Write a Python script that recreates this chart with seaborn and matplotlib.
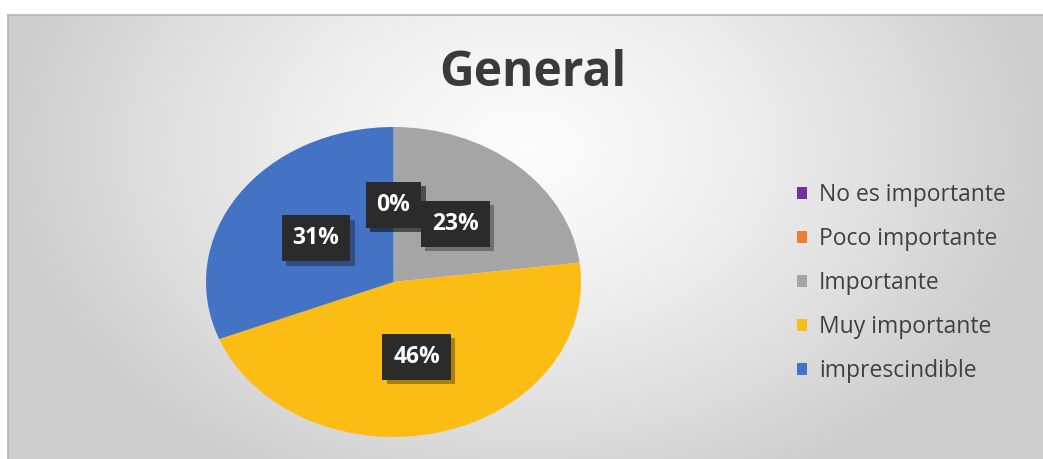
import numpy as np
import matplotlib
matplotlib.use("Agg")
import matplotlib.pyplot as plt
import matplotlib.patheffects as pe
from matplotlib.patches import Patch
import seaborn as sns

# Data
categories = ["No es importante", "Poco importante", "Importante",
              "Muy importante", "imprescindible"]
values = [0, 0, 23, 46, 31]
colors = ["#7030A0", "#ED7D31", "#A5A5A5", "#FBBC14", "#4472C4"]
title = "General"

sns.set_theme(style="white")
plt.rcParams["font.family"] = ["Open Sans", "DejaVu Sans"]

W, H = 1043, 459
fig = plt.figure(figsize=(W / 100, H / 100), dpi=100)
fig.patch.set_facecolor("white")

# Panel background with a soft radial gradient
bg = fig.add_axes([8 / W, 0, (W - 8) / W, (H - 15) / H])
ny, nx = 300, 600
yy, xx = np.mgrid[0:1:ny * 1j, 0:1:nx * 1j]
d = np.sqrt(((xx - 0.5) / 0.5) ** 2 + ((yy - 0.3) / 0.85) ** 2)
val = 0.985 - 0.18 * np.clip(d, 0, 1.0) ** 1.4
img = np.dstack([val, val, val])
bg.imshow(img, aspect="auto", extent=[0, 1, 0, 1], origin="upper")
bg.set_xlim(0, 1)
bg.set_ylim(0, 1)
bg.set_xticks([])
bg.set_yticks([])
for name, s in bg.spines.items():
    s.set_color("#b4b4b4")
    s.set_linewidth(1.2)
    if name in ("right", "bottom"):
        s.set_visible(False)

# Title
fig.text(533 / W, 1 - 73 / H, title, ha="center", va="center",
         fontsize=34.5, fontweight="bold", color="#3a3a3a")

# Pie (stretched horizontally)
ax = fig.add_axes([206 / W, (H - 437) / H, 375 / W, 310 / H])
wedges, texts, autotexts = ax.pie(
    values, colors=colors, startangle=90, counterclock=False,
    autopct="%1.0f%%", pctdistance=0.5, radius=1.0,
    wedgeprops=dict(linewidth=0),
    textprops=dict(color="white", fontsize=16.5, fontweight="bold"),
)
ax.set_aspect("auto")
ax.set_xlim(-1, 1)
ax.set_ylim(-1, 1)
ax.axis("off")

for t in autotexts:
    t.set_bbox(dict(boxstyle="square,pad=0.48", facecolor="#2b2b2b",
                    edgecolor="none"))
    t.get_bbox_patch().set_path_effects(
        [pe.SimplePatchShadow(offset=(3, -3), alpha=0.35), pe.Normal()])

# Legend
handles = [Patch(facecolor=c, edgecolor="none") for c in colors]
fig.legend(handles, categories, loc="center left",
           bbox_to_anchor=(788 / W, 1 - 283 / H), frameon=False,
           fontsize=16.5, labelcolor="#404040", handlelength=0.45,
           handleheight=0.45, handletextpad=0.5, labelspacing=0.87,
           borderaxespad=0)

fig.savefig("out.png", dpi=100)
